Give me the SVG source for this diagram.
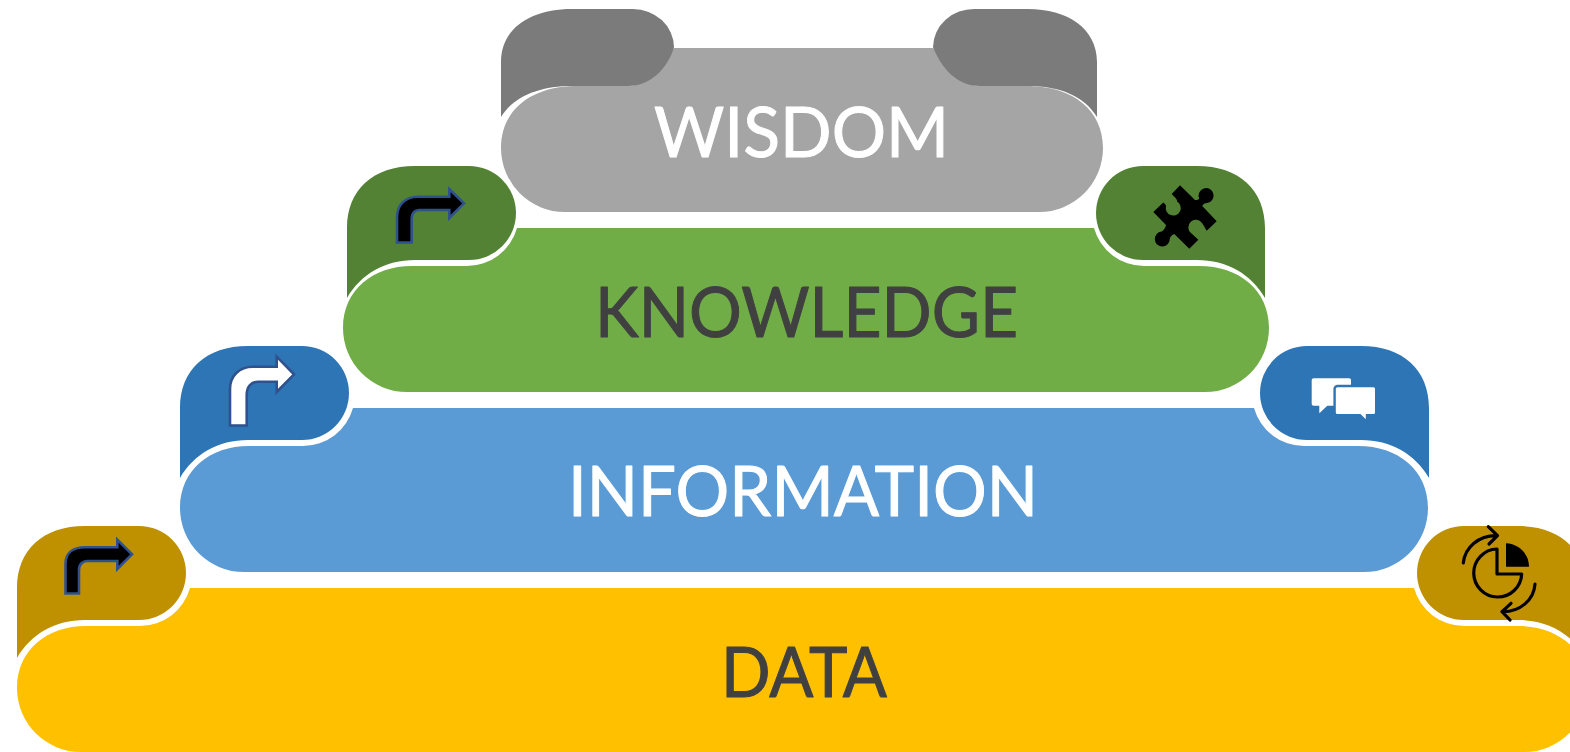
<svg xmlns="http://www.w3.org/2000/svg" width="1570" height="752" viewBox="0 0 1570 752">
<style>
.t{font-family:Lato,"Liberation Sans",sans-serif;font-size:70px;stroke-width:1;stroke-linejoin:round}
.w{fill:#fff;stroke:#fff}.k{fill:#404040;stroke:#404040}
.bent{stroke:#2f528f;stroke-width:2.6;stroke-linejoin:miter}
.ln{fill:none;stroke:#000;stroke-width:3.2;stroke-linecap:round;stroke-linejoin:round}
</style>
<defs>
<path id="tabL" d="M0 132V62C0 24 26 0 68 0H122A47 47 0 0 1 122 94H68C38 94 14 108 0 132Z"/>
<path id="tabR" d="M169 132V62C169 24 143 0 101 0H47A47 47 0 0 0 47 94H101C131 94 155 108 169 132Z"/>
</defs>
<rect width="1570" height="752" fill="#fff"/>
<g id="data">
<use href="#tabL" x="17" y="526" fill="#bf9000"/>
<use href="#tabR" x="1417" y="526" fill="#bf9000"/>
<path fill="#ffc000" d="M190 588H1414A52 52 0 0 0 1464 626H1518C1558 626 1588 650 1588 688A64 64 0 0 1 1524 752H81A64 64 0 0 1 17 688C17 650 47 626 86 626H140A52 52 0 0 0 190 588Z"/>
<path class="bent" fill="#000" d="M65.500 593.500H79V570C79 564 83 561 87 561H117.300V569L132 554.300L117.300 539.600V547.300H85C73 547.300 65.500 553 65.500 564Z"/>
<g id="chart-icon">
<path d="M1506 543.300V566.700H1529C1529 554 1519 544 1506 543.300Z" fill="#000"/>
<path class="ln" d="M1497 549A24 24 0 1 0 1521.700 574H1497Z"/>
<path class="ln" d="M1463.300 563C1465 547 1479 535.700 1496 535.700M1488.300 526.700L1497.500 535.700L1489 544"/>
<path class="ln" d="M1535 584C1534 600 1520 611.700 1503 611.700M1511 603.300L1502 611.700L1510 620"/>
</g>
<text class="t k" x="721" y="696.500" textLength="166" lengthAdjust="spacingAndGlyphs">DATA</text>
</g>
<g id="information">
<use href="#tabL" x="180" y="346" fill="#2e75b6"/>
<use href="#tabR" x="1260" y="346" fill="#2e75b6"/>
<path fill="#5b9bd5" d="M353 408H1254A52 52 0 0 0 1304 446H1358C1398 446 1428 470 1428 508A64 64 0 0 1 1364 572H244A64 64 0 0 1 180 508C180 470 210 446 249 446H303A52 52 0 0 0 353 408Z"/>
<path class="bent" fill="#fff" d="M230 425.500H246.700V395C246.700 387 251 381.700 258 381.700H276.700V392L294 374.300L276.700 356.700V366.700H253C239 366.700 230 376 230 389Z"/>
<g id="chat-icon">
<path fill="#fff" d="M1313.700 378.300H1349C1350.500 378.300 1351 379 1351 380.500V390H1336V405.700H1327.300L1319.300 413.300V405.700H1313.700C1312.500 405.700 1311.700 405 1311.700 403.700V380.300C1311.700 379 1312.500 378.300 1313.700 378.300Z"/>
<path fill="#fff" stroke="#2e75b6" stroke-width="2.400" d="M1337.500 386H1373.500C1375 386 1376.200 387.200 1376.200 388.700V412.500C1376.200 414 1375 415.200 1373.500 415.200H1367V422L1360 415.200H1337.500C1336 415.200 1334.600 414 1334.600 412.500V388.700C1334.600 387.200 1336 386 1337.500 386Z"/>
</g>
<text class="t w" x="568" y="515.500" textLength="470" lengthAdjust="spacingAndGlyphs">INFORMATION</text>
</g>
<g id="knowledge">
<use href="#tabL" x="347" y="166" fill="#548235"/>
<use href="#tabR" x="1096" y="166" fill="#548235"/>
<path fill="#70ad47" d="M517 228H1094A52 52 0 0 0 1144 266H1199C1239 266 1269 290 1269 328A64 64 0 0 1 1205 392H407A64 64 0 0 1 343 328C343 290 373 266 412 266H467A52 52 0 0 0 517 228Z"/>
<path class="bent" fill="#000" d="M397 242.500H411.700V218C411.700 213 415 210 419 210H449.300V218L464 203.300L449.300 189V196.700H418C405 196.700 397 205 397 217Z"/>
<path id="puzzle-icon" fill="#000" d="M1180 185.300L1195 200C1197 200 1198.800 199.500 1199.200 198.500A7.500 7.500 0 1 1 1207 203C1205 203.300 1203 204 1202.300 206L1216.700 221.300L1206.700 230.700C1205 228 1203.500 225 1202 223A7.500 7.500 0 1 0 1191 233C1193 235 1196 237.500 1198.300 239.700L1189.300 248.700L1174.300 234C1172 235 1170.500 236 1169.800 238.500A7.500 7.500 0 1 1 1161.500 231.500C1163 231 1165.500 228 1166 225L1153.300 212L1163.300 202.500C1165 204 1166 205 1166 206A7.500 7.500 0 1 0 1177 201.500C1178 200 1175 197.500 1171.700 194Z"/>
<text class="t k" x="595" y="336.500" textLength="423" lengthAdjust="spacingAndGlyphs">KNOWLEDGE</text>
</g>
<g id="wisdom">
<path fill="#a5a5a5" d="M674 48H933L975 86H1030C1073 87 1103 110 1103 148A64 64 0 0 1 1039 212H565A64 64 0 0 1 501 148C501 110 531 87 574 86H633Z"/>
<path fill="#7b7b7b" d="M501 117V62C501 28 531 9 572 9H633A41 38.500 0 0 1 674 47C670 62 655 86 628 86H572C540 86 514 96 501 117Z"/>
<path fill="#7b7b7b" d="M1097 117V62C1097 28 1067 9 1028 9H975A41 38.500 0 0 0 933 47C939 62 953 86 980 86H1028C1060 86 1084 96 1097 117Z"/>
<text class="t w" x="654" y="156.500" textLength="295" lengthAdjust="spacingAndGlyphs">WISDOM</text>
</g>
</svg>
